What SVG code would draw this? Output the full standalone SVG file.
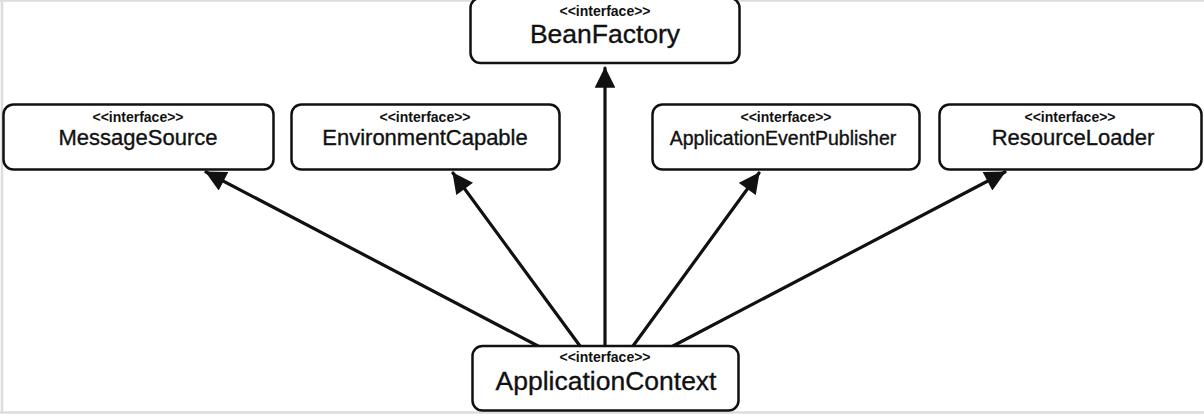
<svg xmlns="http://www.w3.org/2000/svg" width="1204" height="416" viewBox="0 0 1204 416">
<style>
.box{fill:#fff;stroke:#111;stroke-width:2.5}
.st{font-family:"Liberation Sans",Arial,sans-serif;font-weight:bold;font-size:14px;fill:#111;text-anchor:middle}
.nm{font-family:"Liberation Sans",Arial,sans-serif;font-size:22px;fill:#111;stroke:#111;stroke-width:0.35;text-anchor:middle}
.big{font-size:26.5px}
.edge{stroke:#111;stroke-width:3.2;fill:none;stroke-linecap:round}
.frame{stroke:#dcdcdc;stroke-width:2.5;fill:none}
</style>
<defs>
<marker id="arr" viewBox="0 0 10 10" refX="9.5" refY="5" markerWidth="7" markerHeight="6.5" markerUnits="strokeWidth" orient="auto">
<path d="M0,0 L10,5 L0,10 Z" fill="#111"/>
</marker>
</defs>
<rect width="1204" height="416" fill="#fff"/>
<g id="frame">
<line class="frame" x1="0" y1="0.5" x2="1204" y2="0.5" stroke-width="1"/>
<line class="frame" x1="2" y1="0" x2="2" y2="413"/>
<line class="frame" x1="0" y1="412.5" x2="1204" y2="412.5"/>
</g>
<g id="connectors">
<line class="edge" x1="538" y1="346" x2="206" y2="172" marker-end="url(#arr)"/>
<line class="edge" x1="580" y1="346" x2="453" y2="173" marker-end="url(#arr)"/>
<line class="edge" x1="605" y1="346" x2="605" y2="68" marker-end="url(#arr)"/>
<line class="edge" x1="633" y1="346" x2="759" y2="173" marker-end="url(#arr)"/>
<line class="edge" x1="673" y1="346" x2="1005" y2="172" marker-end="url(#arr)"/>
</g>
<g id="BeanFactory">
<rect class="box" x="470.5" y="-2" width="269" height="65" rx="10"/>
<text class="st" x="605" y="16">&lt;&lt;interface&gt;&gt;</text>
<text class="nm big" x="605" y="43">BeanFactory</text>
</g>
<g id="MessageSource">
<rect class="box" x="3.5" y="104.5" width="270" height="65" rx="10"/>
<text class="st" x="138" y="122">&lt;&lt;interface&gt;&gt;</text>
<text class="nm" x="138" y="145">MessageSource</text>
</g>
<g id="EnvironmentCapable">
<rect class="box" x="291.5" y="104.5" width="268" height="65" rx="10"/>
<text class="st" x="425" y="122">&lt;&lt;interface&gt;&gt;</text>
<text class="nm" x="425" y="145">EnvironmentCapable</text>
</g>
<g id="ApplicationEventPublisher">
<rect class="box" x="652.5" y="104.5" width="267" height="65" rx="10"/>
<text class="st" x="786" y="122">&lt;&lt;interface&gt;&gt;</text>
<text class="nm" x="783" y="145" style="font-size:19.5px">ApplicationEventPublisher</text>
</g>
<g id="ResourceLoader">
<rect class="box" x="939.5" y="104.5" width="262" height="65" rx="10"/>
<text class="st" x="1070" y="122">&lt;&lt;interface&gt;&gt;</text>
<text class="nm" x="1073" y="145">ResourceLoader</text>
</g>
<g id="ApplicationContext">
<rect class="box" x="472.5" y="346" width="266" height="64.5" rx="10"/>
<text class="st" x="605" y="362">&lt;&lt;interface&gt;&gt;</text>
<text class="nm big" x="606" y="390">ApplicationContext</text>
</g>
</svg>
